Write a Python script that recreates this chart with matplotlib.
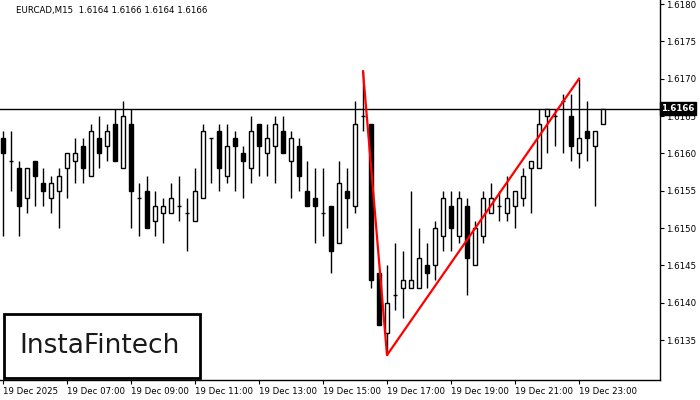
import numpy as np
import matplotlib.pyplot as plt
from matplotlib.patches import Rectangle

# EURCAD M15 candles, 19 Dec 05:00 .. 23:45
opens = [1.6162, 1.6159, 1.6158, 1.6154, 1.6159, 1.6156, 1.6154, 1.6155, 1.6158, 1.6159,
         1.6161, 1.6157, 1.6162, 1.6161, 1.6164, 1.6158, 1.6164, 1.6154, 1.6155, 1.6151,
         1.6152, 1.6152, 1.6153, 1.6152, 1.6151, 1.6154, 1.6162, 1.6163, 1.6157, 1.6162,
         1.6160, 1.6158, 1.6164, 1.6160, 1.6161, 1.6163, 1.6159, 1.6161, 1.6155, 1.6154,
         1.6152, 1.6153, 1.6148, 1.6155, 1.6153, 1.6165, 1.6164, 1.6144, 1.6136, 1.6141,
         1.6142, 1.6142, 1.6142, 1.6145, 1.6145, 1.6149, 1.6153, 1.6149, 1.6153, 1.6145,
         1.6149, 1.6152, 1.6153, 1.6152, 1.6153, 1.6154, 1.6158, 1.6158, 1.6165, 1.6165,
         1.6167, 1.6165, 1.6160, 1.6163, 1.6161, 1.6164]
highs = [1.6163, 1.6163, 1.6159, 1.6158, 1.6159, 1.6158, 1.6157, 1.6158, 1.6160, 1.6162,
         1.6162, 1.6164, 1.6165, 1.6164, 1.6166, 1.6167, 1.6166, 1.6156, 1.6157, 1.6155,
         1.6154, 1.6156, 1.6157, 1.6154, 1.6158, 1.6164, 1.6162, 1.6164, 1.6164, 1.6163,
         1.6161, 1.6165, 1.6164, 1.6164, 1.6165, 1.6165, 1.6163, 1.6162, 1.6159, 1.6158,
         1.6158, 1.6153, 1.6159, 1.6158, 1.6167, 1.6171, 1.6164, 1.6144, 1.6145, 1.6148,
         1.6147, 1.6155, 1.6150, 1.6148, 1.6151, 1.6155, 1.6155, 1.6155, 1.6154, 1.6151,
         1.6155, 1.6156, 1.6155, 1.6157, 1.6155, 1.6158, 1.6159, 1.6166, 1.6166, 1.6166,
         1.6168, 1.6168, 1.6170, 1.6167, 1.6163, 1.6166]
lows = [1.6149, 1.6155, 1.6149, 1.6152, 1.6153, 1.6153, 1.6152, 1.6150, 1.6154, 1.6156,
        1.6156, 1.6157, 1.6158, 1.6159, 1.6159, 1.6158, 1.6150, 1.6149, 1.6150, 1.6149,
        1.6148, 1.6152, 1.6151, 1.6147, 1.6151, 1.6154, 1.6156, 1.6155, 1.6156, 1.6155,
        1.6154, 1.6156, 1.6157, 1.6157, 1.6156, 1.6160, 1.6154, 1.6155, 1.6153, 1.6148,
        1.6149, 1.6144, 1.6148, 1.6150, 1.6152, 1.6163, 1.6142, 1.6137, 1.6133, 1.6139,
        1.6138, 1.6142, 1.6142, 1.6142, 1.6143, 1.6147, 1.6147, 1.6148, 1.6141, 1.6145,
        1.6148, 1.6152, 1.6151, 1.6151, 1.6150, 1.6153, 1.6152, 1.6158, 1.6160, 1.6161,
        1.6160, 1.6159, 1.6158, 1.6159, 1.6153, 1.6164]
closes = [1.6160, 1.6159, 1.6153, 1.6158, 1.6157, 1.6155, 1.6156, 1.6157, 1.6160, 1.6160,
          1.6158, 1.6163, 1.6160, 1.6163, 1.6159, 1.6165, 1.6155, 1.6154, 1.6150, 1.6153,
          1.6153, 1.6154, 1.6153, 1.6152, 1.6155, 1.6163, 1.6162, 1.6158, 1.6161, 1.6161,
          1.6159, 1.6163, 1.6161, 1.6162, 1.6164, 1.6160, 1.6162, 1.6157, 1.6153, 1.6153,
          1.6152, 1.6147, 1.6156, 1.6154, 1.6164, 1.6165, 1.6143, 1.6137, 1.6140, 1.6141,
          1.6143, 1.6143, 1.6146, 1.6144, 1.6150, 1.6154, 1.6150, 1.6154, 1.6146, 1.6150,
          1.6154, 1.6154, 1.6153, 1.6154, 1.6155, 1.6157, 1.6159, 1.6164, 1.6166, 1.6165,
          1.6167, 1.6161, 1.6162, 1.6162, 1.6163, 1.6166]

time_labels = ['19 Dec 2025', '19 Dec 07:00', '19 Dec 09:00', '19 Dec 11:00', '19 Dec 13:00',
               '19 Dec 15:00', '19 Dec 17:00', '19 Dec 19:00', '19 Dec 21:00', '19 Dec 23:00']
price_ticks = [1.6135, 1.6140, 1.6145, 1.6150, 1.6155, 1.6160, 1.6165, 1.6170, 1.6175, 1.6180]

# double top pattern: (bar index, price)
pattern_x = [45, 48, 72]
pattern_y = [1.6171, 1.6133, 1.6170]
last_price = 1.6166

fig = plt.figure(figsize=(7, 4), dpi=100)
ax = fig.add_axes([0, 0.05, 660 / 700, 0.95])

n = len(opens)
x = np.arange(n)
w = 0.62
for i in range(n):
    o, h, l, c = opens[i], highs[i], lows[i], closes[i]
    top, bot = max(o, c), min(o, c)
    ax.vlines(x[i], l, h, color='black', lw=1, zorder=2)
    if top - bot < 1e-6:
        ax.hlines(o, x[i] - w / 2, x[i] + w / 2, color='black', lw=1, zorder=3)
    else:
        face = 'white' if c > o else 'black'
        ax.add_patch(Rectangle((x[i] - w / 2, bot), w, top - bot, facecolor=face,
                               edgecolor='black', lw=1, zorder=3))

ax.axhline(last_price, color='black', lw=1, zorder=1)
ax.plot(pattern_x, pattern_y, color='#ff0000', lw=1.6, zorder=4)

ax.set_xlim(-0.375, 82.125)
ax.set_ylim(1.612967, 1.618054)

ax.yaxis.tick_right()
ax.set_yticks(price_ticks)
ax.set_yticklabels([f'{p:.4f}' for p in price_ticks])
ax.set_xticks(np.arange(0, 80, 8))
ax.set_xticklabels(time_labels, ha='left')
ax.tick_params(axis='both', labelsize=6.2, length=3, width=0.8, pad=1.5, colors='black')
ax.tick_params(axis='x', pad=2)
for s in ['left', 'top']:
    ax.spines[s].set_visible(False)
for s in ['right', 'bottom']:
    ax.spines[s].set_linewidth(1)

ax.text(1.6, 1.61791, 'EURCAD,M15  1.6164 1.6166 1.6164 1.6166', fontsize=6.2,
        va='center', ha='left')

# current price tag
ax.text(1.002, last_price, '1.6166', transform=ax.get_yaxis_transform(), fontsize=6.2,
        color='white', va='center', ha='left', fontweight='bold',
        bbox=dict(boxstyle='square,pad=0.2', facecolor='black', edgecolor='black'))

# logo
fig.patches.append(Rectangle((4 / 700, 22 / 400), 196 / 700, 64 / 400, transform=fig.transFigure,
                             facecolor='white', edgecolor='black', lw=2, zorder=5))
fig.text(100 / 700, 54 / 400, 'InstaFintech', fontsize=19, ha='center', va='center',
         color='#1a1a1a', zorder=6)

fig.savefig('out.png', dpi=100)
